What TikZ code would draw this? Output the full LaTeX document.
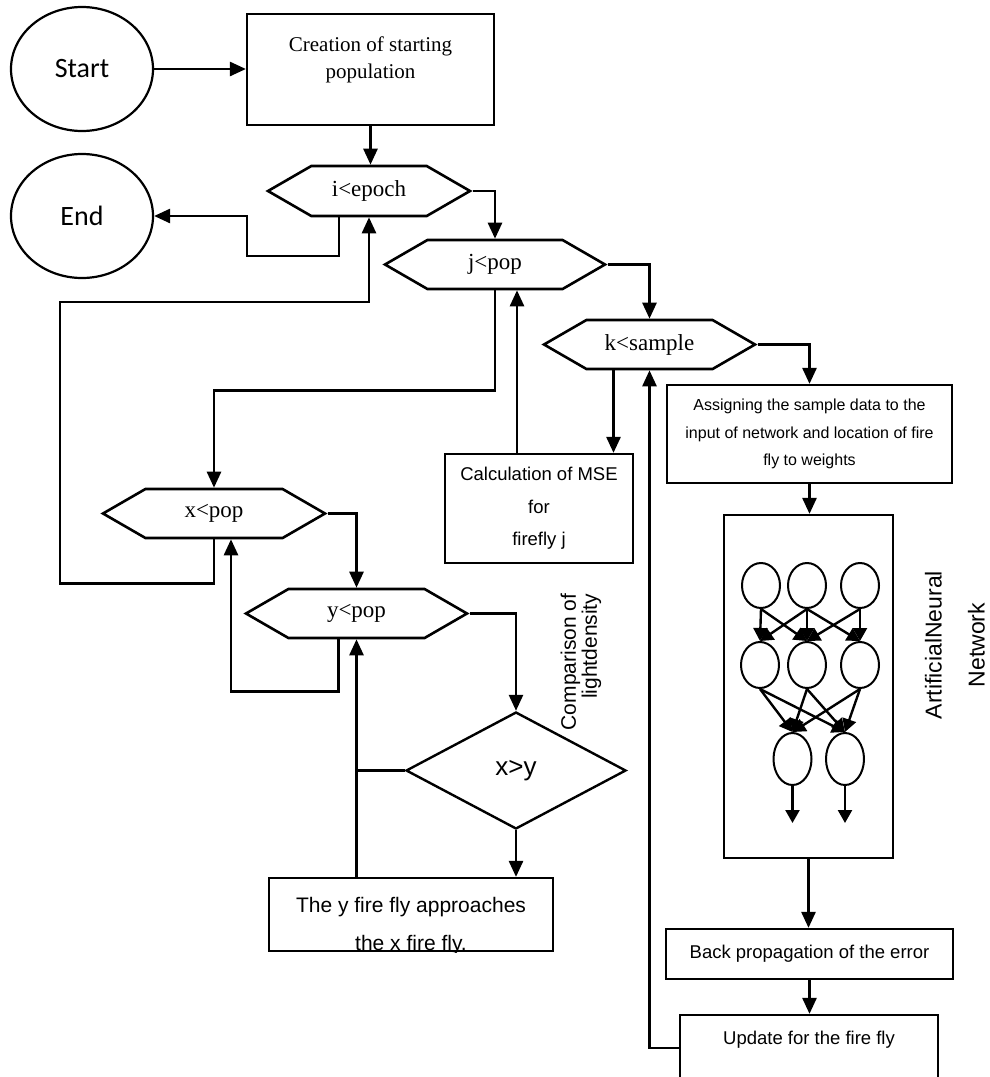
\documentclass[tikz,border=0pt]{standalone}
\usepackage{fontspec}
\setmainfont{Liberation Serif}
\newfontfamily\arialf{Liberation Sans}
\newfontfamily\calf{Carlito}
\usetikzlibrary{shapes.geometric,shapes.symbols,arrows.meta,calc}
\begin{document}
\begin{tikzpicture}[x=1pt,y=-1pt,
  ln/.style={line width=2.6pt},
  arr/.style={ln,-{Triangle[length=16pt,width=14pt]}},
  box/.style={draw,line width=2.2pt,rectangle,inner sep=0pt},
  dec/.style={draw,line width=2.6pt,shape=signal,signal to=east and west,signal pointer angle=60,minimum height=49pt,inner sep=0pt,font=\fontsize{23}{25}\selectfont},
  term/.style={draw,line width=2.2pt,ellipse,minimum width=142pt,minimum height=124pt,inner sep=0pt,font=\calf\fontsize{28}{30}\selectfont},
  neu/.style={draw,line width=2pt,ellipse,minimum width=38pt,minimum height=45pt,inner sep=0pt},
  narr/.style={line width=2.4pt,-{Triangle[length=13pt,width=14pt]}},
  sf/.style={font=\arialf\fontsize{18.5}{32.5}\selectfont}
]
\useasboundingbox (0,0) rectangle (989,1077);
\clip (0,0) rectangle (989,1077);

% terminals
\node[term] (start) at (82,69) {Start};
\node[term] (end) at (82,216) {End};

% creation box
\node[box,minimum width=247pt,minimum height=111pt] (create) at (370.5,69.5) {};
\node[align=center,font=\fontsize{21}{27}\selectfont] (createtxt) at (370.5,60) {Creation of starting\\population};

% decisions
\node[dec,minimum width=202pt,minimum height=50pt] (ie) at (369,191) {i<epoch};
\node[dec,minimum width=220pt] (jp) at (495,264.5) {j<pop};
\node[dec,minimum width=211pt] (kp) at (649.5,344.5) {k<sample};
\node[dec,minimum width=222pt] (xp) at (214,513.5) {x<pop};
\node[dec,minimum width=221pt] (yp) at (356.5,613.5) {y<pop};

% boxes
\node[box,sf,align=center,minimum width=188pt,minimum height=109pt] (mse) at (539,508.5) {Calculation of MSE\\for\\firefly j};
\node[box,align=center,font=\arialf\fontsize{16}{27.5}\selectfont,minimum width=285pt,minimum height=98pt] (assign) at (809.5,434) {Assigning the sample data to the\\input of network and location of fire\\fly to weights};
\node[box,minimum width=169pt,minimum height=343pt] (ann) at (808.5,686.5) {};
\node[box,sf,minimum width=287pt,minimum height=50pt] (bp) at (809.5,954) {Back propagation of the error};
\node[box,minimum width=258pt,minimum height=66pt] (upd) at (809,1048) {};
\node[sf] (updtxt) at (809,1040) {Update for the fire fly};

\node[box,minimum width=284pt,minimum height=73pt] (appr) at (411,914.5) {};
\begin{scope}
\clip (appr.south west) rectangle (appr.north east);
\node[align=center,font=\arialf\fontsize{21}{38}\selectfont] (apprtxt) at (411,926) {The y fire fly approaches\\the x fire fly.};
\end{scope}

\node[draw,line width=2.4pt,diamond,minimum width=220pt,minimum height=117pt,inner sep=0pt,font=\arialf\fontsize{26}{28}\selectfont] (dia) at (516,770.5) {x>y};

% side labels
\node[rotate=90,align=right,inner sep=1pt,font=\arialf\fontsize{21}{21}\selectfont] (cmp) at (581,662) {Comparison of\\lightdensity};
\node[rotate=90,align=center,inner sep=1pt,font=\arialf\fontsize{23}{43}\selectfont] (annlbl) at (955,645) {ArtificialNeural\\Network};

% neural network
\foreach \n/\x in {a/761,b/807,c/860} \node[neu] (p\n) at (\x,585.5) {};
\foreach \n/\x in {a/760,b/807,c/860} \node[neu,minimum height=46pt] (q\n) at (\x,665) {};
\foreach \n/\x in {a/792.5,b/845} \node[neu,minimum height=52pt] (r\n) at (\x,759) {};
\foreach \s/\t in {pa/qa,pa/qb,pb/qa,pb/qb,pb/qc,pc/qb,pc/qc} \draw[narr] (\s.south) -- (\t.north);
\foreach \s in {qa,qb,qc} \foreach \t in {ra,rb} \draw[narr] (\s.south) -- (\t.north);
\coordinate (oa) at (792.5,823);
\coordinate (ob) at (845,823);
\draw[narr] (ra.south) -- (oa);
\draw[narr] (rb.south) -- (ob);

% connectors
\draw[arr] (start.east) -- (start.east -| create.west);
\draw[arr] (create.south) -- (create.south |- ie.north);
\coordinate (e1) at ($(ie.south)+(-30,0)$);
\coordinate (e2) at (247,256);
\draw[arr] (e1) |- (e2) |- (end.east);
\coordinate (w1) at (60,302);
\draw[arr] (xp.south) -- ++(0,44) -| (w1) -| (ie.south);
\draw[arr] (ie.east) -| (jp.north);
\draw[arr] (jp.south) -- ++(0,100) -| (xp.north);
\coordinate (m1) at ($(mse.north)+(-22,0)$);
\draw[arr] (m1) -- (m1 |- jp.south);
\draw[arr] (jp.east) -| (kp.north);
\coordinate (k1) at ($(kp.south)+(-36,0)$);
\draw[arr] (k1) -- (k1 |- mse.north);
\draw[arr] (kp.east) -| (assign.north);
\draw[arr] (assign.south) -- (assign.south |- ann.north);
\draw[arr] (ann.south) -- (ann.south |- bp.north);
\draw[arr] (bp.south) -- (bp.south |- upd.north);
\draw[arr] (upd.west) -| (kp.south);
\draw[arr] (xp.east) -| (yp.north);
\coordinate (y1) at ($(yp.south)+(-18,0)$);
\coordinate (x1) at ($(xp.south)+(17,0)$);
\draw[arr] (y1) -- ++(0,52) -| (x1);
\draw[arr] (yp.east) -| (dia.north);
\draw[arr] (dia.south) -- (dia.south |- appr.north);
\draw[arr] (appr.north -| yp.south) -- (yp.south);
\draw[ln] (dia.west) -- (dia.west -| yp.south);
\end{tikzpicture}
\end{document}
